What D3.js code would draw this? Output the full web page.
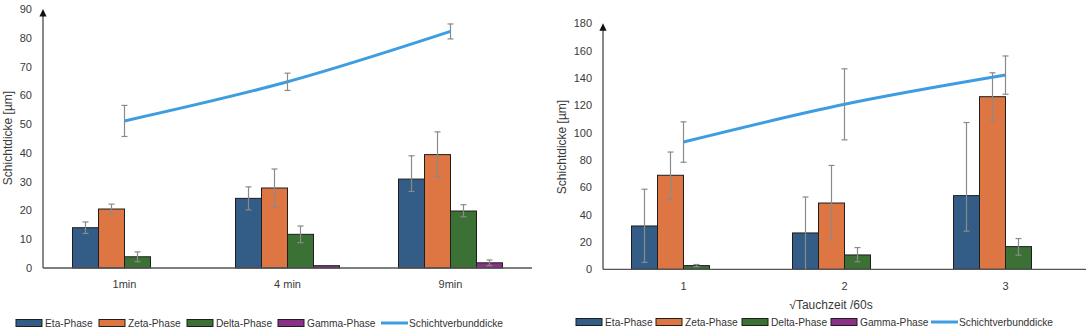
<!DOCTYPE html>
<html>
<head>
<meta charset="utf-8">
<script src="https://cdn.jsdelivr.net/npm/d3@7"></script>
<style>
  body { margin: 0; background: #fff; }
  svg { display: block; font-family: "Liberation Sans", Arial, sans-serif; }
  .tick text { fill: #3a3a3a; font-size: 11px; }
</style>
</head>
<body>
<svg id="chart" width="1087" height="331"></svg>
<script>
// --- DATOS ---
const phases = ["Eta-Phase", "Zeta-Phase", "Delta-Phase", "Gamma-Phase"];
const phaseColors = ["#335d87", "#dd7643", "#3b7135", "#8a3187"];
const lineName = "Schichtverbunddicke";
const lineColor = "#3d9de0";

// Diagramm links: Tauchzeit in Minuten
const catsLeft = ["1min", "4 min", "9min"];
const barsLeft = [
  [14.0, 24.2, 30.9],   // Eta
  [20.5, 27.8, 39.4],   // Zeta
  [3.9, 11.7, 19.8],    // Delta
  [0, 0.8, 1.8]         // Gamma
];
const errUpLeft = [
  [2.0, 4.0, 8.1],
  [1.7, 6.6, 7.9],
  [1.7, 2.9, 2.2],
  [0, 0, 1.0]
];
const errDownLeft = [
  [2.0, 4.0, 4.3],
  [1.7, 6.6, 7.7],
  [1.7, 2.9, 2.0],
  [0, 0, 1.0]
];
const lineLeft = [51.1, 64.7, 82.2];
const lineErrLeft = [5.4, 3.0, 2.6];
const ticksLeft = [0, 10, 20, 30, 40, 50, 60, 70, 80, 90];

// Diagramm rechts: Wurzel der Tauchzeit
const catsRight = ["1", "2", "3"];
const barsRight = [
  [31.7, 26.6, 53.9],
  [68.8, 48.5, 126.3],
  [2.7, 10.5, 16.6],
  [0, 0, 0]
];
const errUpRight = [
  [26.9, 26.3, 53.5],
  [17.0, 27.5, 17.5],
  [0.8, 5.4, 5.9],
  [0, 0, 0]
];
const errDownRight = [
  [26.6, 26.6, 26.0],
  [17.5, 27.0, 17.6],
  [0.8, 5.0, 6.3],
  [0, 0, 0]
];
const lineRight = [93.1, 120.7, 142.1];
const lineErrRight = [14.8, 26.0, 14.0];
const ticksRight = [0, 20, 40, 60, 80, 100, 120, 140, 160, 180];

const svg = d3.select("#chart");

function drawPanel(cfg) {
  const g = svg.append("g");

  const x = d3.scaleBand().domain(cfg.cats).range([cfg.left, cfg.right]);
  const y = d3.scaleLinear().domain([0, cfg.max]).range([cfg.bottom, cfg.top]);
  const xs = d3.scaleBand().domain(d3.range(phases.length)).range([-52, 52]);

  // Y-Achse mit Pfeil
  const yAxis = g.append("g")
    .attr("transform", `translate(${cfg.left},0)`)
    .call(d3.axisLeft(y).tickValues(cfg.ticks).tickSize(0).tickPadding(11));
  yAxis.select(".domain").remove();
  g.append("line")
    .attr("x1", cfg.left).attr("x2", cfg.left)
    .attr("y1", y(0)).attr("y2", y(cfg.max) + 5)
    .attr("stroke", "#3a3a3a").attr("stroke-width", 1.2);
  g.append("path")
    .attr("d", `M${cfg.left},${y(cfg.max)} l-3.6,7.5 h7.2 z`)
    .attr("fill", "#111");

  g.append("text")
    .attr("transform", `translate(${cfg.yTitleX},${cfg.yTitleY}) rotate(-90)`)
    .attr("text-anchor", "middle")
    .attr("fill", "#3a3a3a")
    .attr("font-size", 12)
    .text("Schichtdicke [µm]");

  // Balken
  phases.forEach((p, i) => {
    g.append("g").selectAll("rect")
      .data(cfg.cats.map((c, j) => ({ c, v: cfg.bars[i][j] })).filter(d => d.v > 0))
      .join("rect")
      .attr("x", d => x(d.c) + x.bandwidth() / 2 + xs(i))
      .attr("width", xs.bandwidth())
      .attr("y", d => y(d.v))
      .attr("height", d => y(0) - y(d.v))
      .attr("fill", phaseColors[i])
      .attr("stroke", "#1e1e1e")
      .attr("stroke-width", 1);
  });

  // Grundlinie
  g.append("line")
    .attr("x1", cfg.left).attr("x2", cfg.right)
    .attr("y1", y(0)).attr("y2", y(0))
    .attr("stroke", "#555").attr("stroke-width", 1.3);

  // Fehlerbalken der Phasen
  const errs = [];
  phases.forEach((p, i) => {
    cfg.cats.forEach((c, j) => {
      if (cfg.errUp[i][j] > 0 || cfg.errDown[i][j] > 0) {
        errs.push({
          cx: x(c) + x.bandwidth() / 2 + xs(i) + xs.bandwidth() / 2,
          hi: cfg.bars[i][j] + cfg.errUp[i][j],
          lo: cfg.bars[i][j] - cfg.errDown[i][j]
        });
      }
    });
  });
  cfg.cats.forEach((c, j) => {
    errs.push({
      cx: x(c) + x.bandwidth() / 2,
      hi: cfg.line[j] + cfg.lineErr[j],
      lo: cfg.line[j] - cfg.lineErr[j],
      onLine: true
    });
  });

  const lineGen = d3.line()
    .x((d, j) => x(cfg.cats[j]) + x.bandwidth() / 2)
    .y(d => y(d))
    .curve(d3.curveCatmullRom);

  const drawErr = sel => {
    sel.append("line")
      .attr("x1", d => d.cx).attr("x2", d => d.cx)
      .attr("y1", d => y(d.hi)).attr("y2", d => y(Math.max(0, d.lo)));
    sel.append("line")
      .attr("x1", d => d.cx - 3).attr("x2", d => d.cx + 3)
      .attr("y1", d => y(d.hi)).attr("y2", d => y(d.hi));
    sel.filter(d => d.lo > 0.3).append("line")
      .attr("x1", d => d.cx - 3).attr("x2", d => d.cx + 3)
      .attr("y1", d => y(d.lo)).attr("y2", d => y(d.lo));
  };

  g.append("g").attr("stroke", "#8a8a8a").attr("stroke-width", 1.2)
    .selectAll("g").data(errs.filter(d => !d.onLine)).join("g").call(drawErr);

  g.append("path")
    .datum(cfg.line)
    .attr("d", lineGen)
    .attr("fill", "none")
    .attr("stroke", lineColor)
    .attr("stroke-width", 3);

  g.append("g").attr("stroke", "#8a8a8a").attr("stroke-width", 1.2)
    .selectAll("g").data(errs.filter(d => d.onLine)).join("g").call(drawErr);

  // Kategorien
  g.selectAll(".cat").data(cfg.cats).join("text")
    .attr("class", "cat")
    .attr("x", d => x(d) + x.bandwidth() / 2)
    .attr("y", cfg.catY)
    .attr("text-anchor", "middle")
    .attr("fill", "#3a3a3a")
    .attr("font-size", 11)
    .text(d => d);

  if (cfg.xTitle) {
    g.append("text")
      .attr("x", cfg.xTitleX).attr("y", cfg.xTitleY)
      .attr("text-anchor", "middle")
      .attr("fill", "#3a3a3a")
      .attr("font-size", 12)
      .text(cfg.xTitle);
  }

  // Legende
  const leg = g.append("g").attr("transform", `translate(0,${cfg.legY})`);
  phases.forEach((p, i) => {
    leg.append("rect")
      .attr("x", cfg.legX[i]).attr("y", -3.5)
      .attr("width", 26).attr("height", 7)
      .attr("fill", phaseColors[i]).attr("stroke", "#1e1e1e");
    leg.append("text")
      .attr("x", cfg.legX[i] + 29).attr("y", 3.8)
      .attr("fill", "#333").attr("font-size", 10.2)
      .text(p);
  });
  leg.append("line")
    .attr("x1", cfg.legX[4]).attr("x2", cfg.legX[4] + 27)
    .attr("y1", 0).attr("y2", 0)
    .attr("stroke", lineColor).attr("stroke-width", 3);
  leg.append("text")
    .attr("x", cfg.legX[4] + 28).attr("y", 3.8)
    .attr("fill", "#333").attr("font-size", 10.2)
    .text(lineName);
}

drawPanel({
  cats: catsLeft, bars: barsLeft, errUp: errUpLeft, errDown: errDownLeft,
  line: lineLeft, lineErr: lineErrLeft, ticks: ticksLeft, max: 90,
  left: 43, right: 532, top: 9, bottom: 268,
  yTitleX: 12, yTitleY: 138,
  catY: 288,
  legY: 323, legX: [16, 99, 187, 278, 381]
});

drawPanel({
  cats: catsRight, bars: barsRight, errUp: errUpRight, errDown: errDownRight,
  line: lineRight, lineErr: lineErrRight, ticks: ticksRight, max: 180,
  left: 603, right: 1086, top: 23.3, bottom: 269.3,
  yTitleX: 566, yTitleY: 147,
  catY: 290,
  xTitle: "√Tauchzeit /60s", xTitleX: 831, xTitleY: 309,
  legY: 322, legX: [576, 656, 742, 831, 931]
});
</script>
</body>
</html>
